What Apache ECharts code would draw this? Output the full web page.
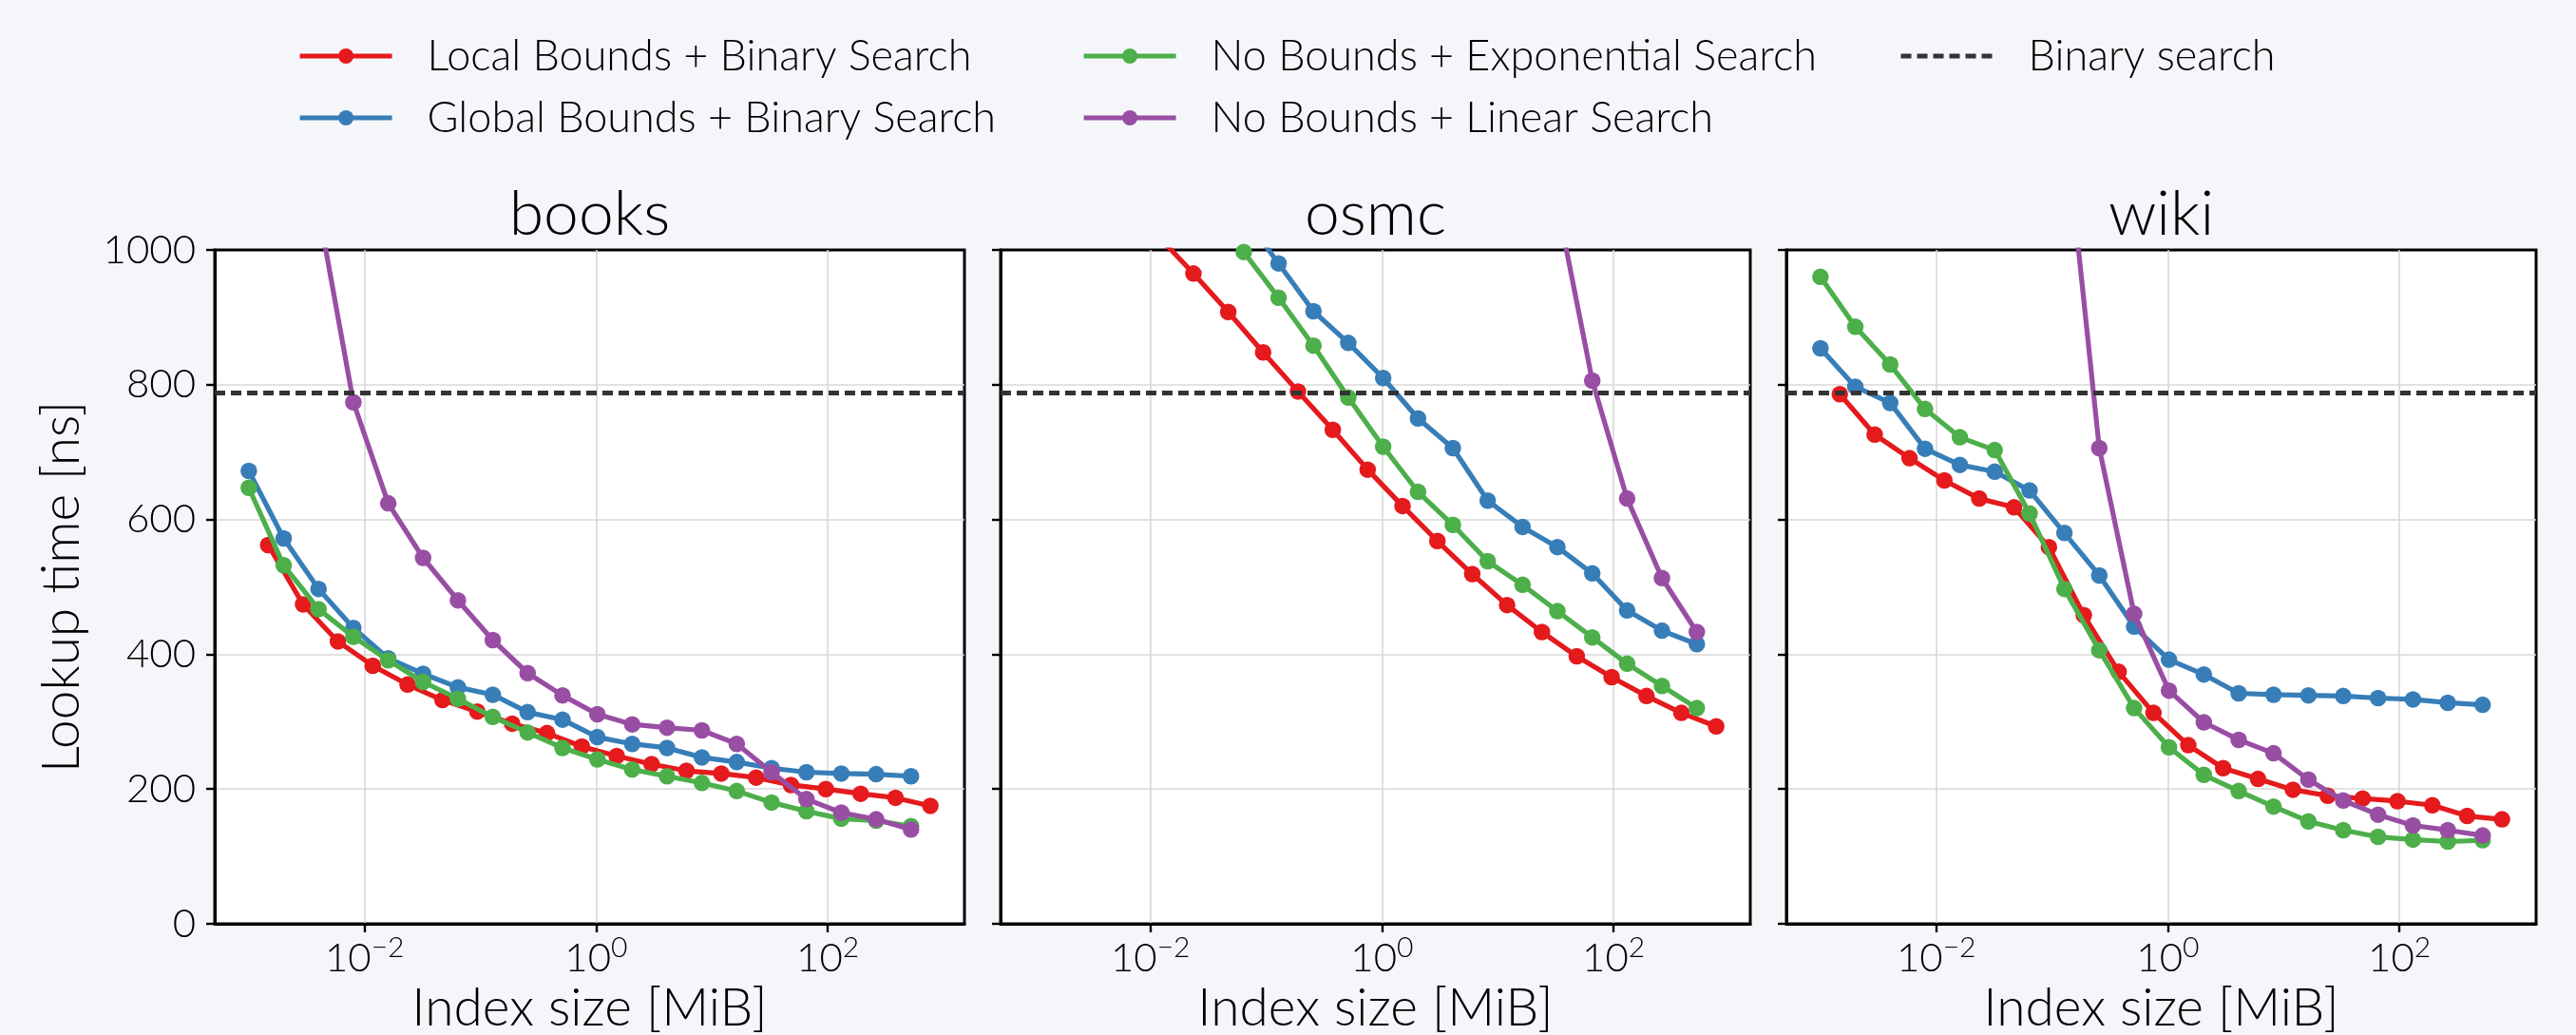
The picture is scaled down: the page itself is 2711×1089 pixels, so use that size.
<!DOCTYPE html>
<html>
<head>
<meta charset="utf-8">
<script src="https://cdn.jsdelivr.net/npm/echarts@6/dist/echarts.min.js"></script>
<style>
html,body{margin:0;padding:0;background:#f5f6fa;}
#chart{width:2711px;height:1089px;}
</style>
</head>
<body>
<div id="chart"></div>
<script>
// ---------------- data ----------------
const datasetNames = ['books', 'osmc', 'wiki'];
const methodNames = [
  'Local Bounds + Binary Search',
  'Global Bounds + Binary Search',
  'No Bounds + Exponential Search',
  'No Bounds + Linear Search'
];
const binaryName = 'Binary search';

// index sizes [MiB]
const sizesMiB = [0.001, 0.002, 0.004, 0.008, 0.016, 0.032, 0.064, 0.128, 0.256, 0.512,
  1.024, 2.048, 4.096, 8.192, 16.384, 32.768, 65.536, 131.072, 262.144, 524.288];
const sizesLocalMiB = [0.00147, 0.00294, 0.00588, 0.01176, 0.02352, 0.04704, 0.09408, 0.18816, 0.37632, 0.75264,
  1.50528, 3.01056, 6.02112, 12.0422, 24.0845, 48.169, 96.338, 192.676, 385.352, 770.703];

// lookup times [ns]
const booksLocal  = [562, 474, 419, 383, 355, 332, 315, 297, 283, 263, 249, 237, 227, 223, 217, 206, 200, 193, 187, 175];
const booksGlobal = [672, 572, 497, 439, 394, 371, 351, 340, 314, 303, 277, 267, 261, 247, 240, 231, 225, 223, 222, 219];
const booksExp    = [647, 532, 467, 426, 391, 359, 334, 307, 284, 261, 244, 229, 219, 209, 197, 180, 167, 156, 153, 145];
const booksLinear = [2500, 1600, 1060, 774, 624, 543, 480, 421, 372, 339, 311, 296, 291, 287, 267, 225, 185, 165, 155, 140];

const osmcLocal  = [1190, 1134, 1077, 1020, 965, 908, 848, 790, 733, 674, 620, 568, 519, 473, 433, 397, 366, 338, 313, 293];
const osmcGlobal = [1500, 1420, 1340, 1260, 1190, 1120, 1050, 980, 909, 862, 810, 750, 706, 628, 589, 559, 520, 465, 435, 415];
const osmcExp    = [1450, 1370, 1290, 1210, 1140, 1070, 997, 929, 858, 781, 708, 641, 592, 538, 503, 464, 425, 386, 353, 320];
const osmcLinear = [null, null, null, null, null, null, null, null, null, null, null, null, null, 2400, 1600, 1068, 806, 631, 513, 433];

const wikiLocal  = [786, 726, 691, 658, 631, 618, 559, 458, 374, 313, 265, 231, 215, 199, 190, 186, 182, 176, 160, 155];
const wikiGlobal = [854, 797, 773, 705, 681, 671, 643, 580, 517, 441, 392, 370, 342, 340, 339, 338, 335, 333, 328, 325];
const wikiExp    = [960, 886, 830, 764, 722, 703, 609, 497, 406, 320, 262, 221, 197, 174, 152, 139, 129, 125, 122, 124];
const wikiLinear = [null, null, null, null, null, null, 2200, 1200, 706, 460, 346, 299, 273, 253, 214, 183, 162, 146, 139, 131];

const binarySearchNs = 788;

const xTickValues = [0.01, 1, 100];

const panelSeries = [
  [booksLocal, booksGlobal, booksExp, booksLinear],
  [osmcLocal, osmcGlobal, osmcExp, osmcLinear],
  [wikiLocal, wikiGlobal, wikiExp, wikiLinear]
];
const methodSizes = [sizesLocalMiB, sizesMiB, sizesMiB, sizesMiB];

// ---------------- styles / layout ----------------
const colors = ['#e41a1c', '#377eb8', '#4daf4a', '#984ea3'];
const dashColor = '#333333';
const FONT = 'Lato';
const W = 300;
const gridLeft = [226, 1053, 1880];
const gridWidth = 789;
const gridTop = 263;
const gridHeight = 709;
const LINE_W = 5.2;
const SYMBOL = 17.5;
const DASH = [11, 6];
const DASH_W = 5;

// x extent: 5% margins in log space, like matplotlib
const allX = sizesMiB.concat(sizesLocalMiB);
const lo = Math.log10(Math.min.apply(null, allX));
const hi = Math.log10(Math.max.apply(null, allX));
const pad = 0.05 * (hi - lo);
const xMin = Math.pow(10, lo - pad);
const xMax = Math.pow(10, hi + pad);

const grids = [], xAxes = [], yAxes = [], series = [], titles = [];
const frameStyle = {color: '#000', width: 3};
const tickStyle = {color: '#000', width: 2.4};
const gridLineStyle = {color: '#d9d9d9', width: 1.6};

function supLabel(v) {
  const e = Math.round(Math.log10(v));
  const es = e < 0 ? '\u2212' + Math.abs(e) : String(e);
  return '{b|10}{s|' + es + '}';
}

for (let p = 0; p < 3; p++) {
  grids.push({
    left: gridLeft[p], top: gridTop, width: gridWidth, height: gridHeight,
    show: true, backgroundColor: '#ffffff', borderColor: '#000', borderWidth: 3,
    containLabel: false, outerBoundsMode: 'none'
  });
  titles.push({
    text: datasetNames[p],
    left: gridLeft[p] + gridWidth / 2,
    top: 193,
    textAlign: 'center',
    padding: 0,
    textStyle: {fontFamily: FONT, fontWeight: W, fontSize: 66, lineHeight: 66, color: '#000'}
  });
  xAxes.push({
    gridIndex: p, type: 'log', logBase: 10, min: xMin, max: xMax,
    axisLine: {show: true, onZero: false, lineStyle: frameStyle},
    axisTick: {show: true, inside: false, length: 9, customValues: xTickValues, lineStyle: tickStyle},
    axisLabel: {
      show: true, margin: 9, customValues: xTickValues,
      formatter: supLabel,
      rich: {
        b: {fontFamily: FONT, fontWeight: W, fontSize: 42, lineHeight: 48, color: '#000', verticalAlign: 'bottom'},
        s: {fontFamily: FONT, fontWeight: W, fontSize: 30, lineHeight: 34, color: '#000', verticalAlign: 'bottom', padding: [0, 0, 17, 0]}
      }
    },
    splitLine: {show: true, lineStyle: gridLineStyle},
    minorTick: {show: false},
    name: 'Index size [MiB]', nameLocation: 'middle', nameGap: 62,
    nameTextStyle: {fontFamily: FONT, fontWeight: W, fontSize: 55, lineHeight: 55, color: '#000'}
  });
  yAxes.push({
    gridIndex: p, type: 'value', min: 0, max: 1000, interval: 200,
    axisLine: {show: true, onZero: false, lineStyle: frameStyle},
    axisTick: {show: true, inside: false, length: 9, lineStyle: tickStyle},
    axisLabel: {
      show: p === 0, margin: 20, fontFamily: FONT, fontWeight: W, fontSize: 42, color: '#000',
      formatter: function (v) { return String(v); }
    },
    splitLine: {show: true, showMinLine: false, showMaxLine: false, lineStyle: gridLineStyle},
    name: p === 0 ? 'Lookup time [ns]' : '',
    nameLocation: 'middle', nameGap: 133,
    nameTextStyle: {fontFamily: FONT, fontWeight: W, fontSize: 55, lineHeight: 55, color: '#000'}
  });
  for (let m = 0; m < 4; m++) {
    const xs = methodSizes[m];
    const ys = panelSeries[p][m];
    const data = [];
    for (let i = 0; i < xs.length; i++) {
      if (ys[i] != null) data.push([xs[i], ys[i]]);
    }
    series.push({
      name: methodNames[m], type: 'line', xAxisIndex: p, yAxisIndex: p,
      data: data, symbol: 'circle', symbolSize: SYMBOL, showSymbol: true, clip: true,
      lineStyle: {color: colors[m], width: LINE_W},
      itemStyle: {color: colors[m]},
      emphasis: {disabled: true},
      z: 2 + m * 0.01
    });
  }
  series.push({
    name: binaryName, type: 'line', xAxisIndex: p, yAxisIndex: p,
    data: [], symbol: 'none',
    lineStyle: {color: dashColor, width: DASH_W, type: DASH},
    itemStyle: {color: dashColor},
    markLine: {
      silent: true, symbol: ['none', 'none'], label: {show: false}, animation: false,
      lineStyle: {color: dashColor, width: DASH_W, type: DASH},
      emphasis: {disabled: true},
      data: [{yAxis: binarySearchNs}]
    }
  });
}

const legendText = {fontFamily: FONT, fontWeight: W, fontSize: 45, lineHeight: 52, color: '#000', padding: [0, 0, 0, 32]};
const legendCommon = {
  orient: 'vertical', top: 33, padding: 0, itemWidth: 97, itemHeight: 20, itemGap: 13,
  textStyle: legendText, selectedMode: false, lineStyle: {width: LINE_W}
};

const option = {
  backgroundColor: '#f5f6fa',
  animation: false,
  title: titles,
  legend: [
    Object.assign({}, legendCommon, {left: 313, data: [methodNames[0], methodNames[1]]}),
    Object.assign({}, legendCommon, {left: 1138, data: [methodNames[2], methodNames[3]]}),
    Object.assign({}, legendCommon, {left: 1998, data: [{name: binaryName, itemStyle: {opacity: 0}, lineStyle: {width: DASH_W}}]})
  ],
  grid: grids,
  xAxis: xAxes,
  yAxis: yAxes,
  series: series
};

const chart = echarts.init(document.getElementById('chart'), null, {renderer: 'canvas', width: 2711, height: 1089});
chart.setOption(option);
</script>
</body>
</html>
